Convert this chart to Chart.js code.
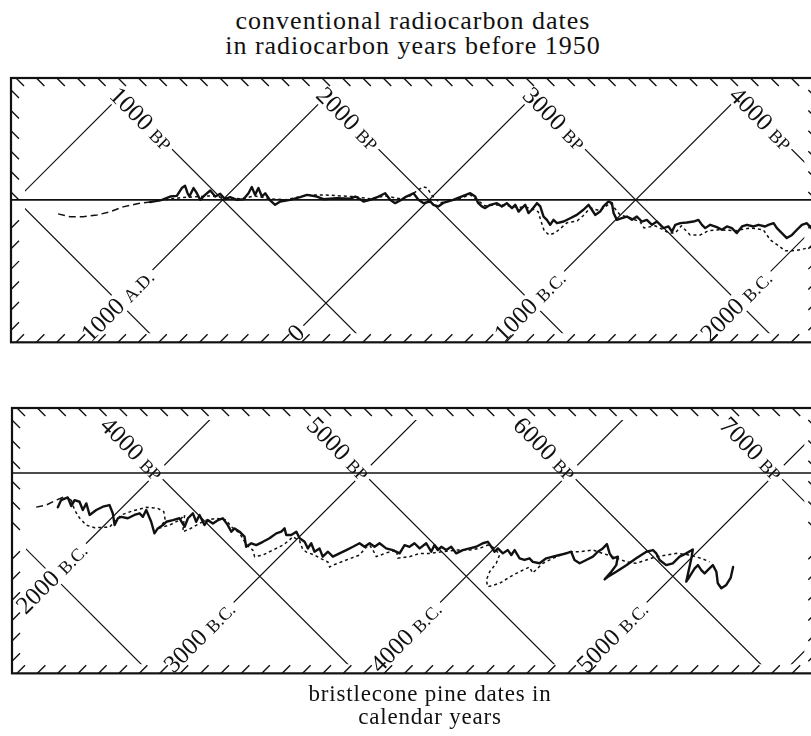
<!DOCTYPE html>
<html>
<head>
<meta charset="utf-8">
<script src="https://cdn.jsdelivr.net/npm/chart.js@4.4.0/dist/chart.umd.min.js"></script>
<style>
  html, body { margin: 0; padding: 0; background: #fff; width: 811px; height: 736px; overflow: hidden; }
  .cap { position: absolute; color: #111; text-align: center;
         font-family: "Liberation Serif", "Times New Roman", serif; }
  #head { left: 0; width: 826px; top: 8px; font-size: 26px; line-height: 25px; letter-spacing: 1px; }
  #foot { left: 0; width: 860px; top: 682px; font-size: 23px; line-height: 23px; letter-spacing: 0.8px; }
  canvas { position: absolute; left: 0; }
</style>
</head>
<body>
<div class="cap" id="head">conventional radiocarbon dates<br>in radiocarbon years before 1950</div>
<canvas id="upper" width="830" height="280" style="top:70px"></canvas>
<canvas id="lower" width="830" height="285" style="top:398px"></canvas>
<div class="cap" id="foot">bristlecone pine dates in<br>calendar years</div>
<script>
// ---- Upper strip: position along the 1:1 line (years BP) and departure from it (years) ----
const upperSolidAge = [
  649, 706, 746, 778, 802, 818, 830, 839, 859, 875,
  891, 915, 940, 964, 988, 1012, 1036, 1069, 1101, 1125,
  1141, 1157, 1173, 1190, 1206, 1230, 1254, 1279, 1327, 1375,
  1408, 1456, 1488, 1553, 1618, 1642, 1666, 1682, 1714, 1755,
  1787, 1811, 1835, 1860, 1884, 1908, 1924, 1948, 1973, 2005,
  2020, 2044, 2068, 2116, 2165, 2199, 2223, 2237, 2255, 2271,
  2296, 2328, 2352, 2376, 2401, 2417, 2433, 2449, 2465, 2481,
  2497, 2522, 2538, 2554, 2570, 2586, 2602, 2619, 2651, 2683,
  2715, 2747, 2772, 2788, 2804, 2828, 2844, 2868, 2885, 2893,
  2909, 2933, 2958, 2982, 3006, 3030, 3054, 3079, 3103, 3135,
  3159, 3176, 3192, 3216, 3248, 3280, 3304, 3321, 3337, 3361,
  3393, 3418, 3442, 3466, 3490, 3515, 3539, 3571, 3595, 3627,
  3643, 3668, 3684, 3708, 3732, 3757, 3781, 3805, 3829, 3850,
  3874
];
const upperSolidShift = [
  -11, 0, 16, 19, 57, 68, 32, 16, 57, 32,
  0, 24, 45, 16, 29, 3, 13, 0, 3, 32,
  62, 24, 57, 16, 32, -3, -24, -8, 0, 13,
  24, 16, 3, 8, 6, 16, 3, -8, 0, 16,
  32, 0, -16, -3, 13, 24, 32, 0, -16, -8,
  -24, -32, -15, 0, 19, 32, 16, -15, -32, -40,
  -24, -16, -32, -16, -40, -24, -57, -40, -24, -64,
  -48, -16, -32, -81, -97, -121, -97, -113, -105, -89,
  -73, -48, -24, -48, -73, -57, -32, -8, -16, -64,
  -97, -89, -81, -97, -81, -105, -97, -121, -105, -137,
  -129, -154, -121, -113, -110, -105, -97, -121, -137, -121,
  -132, -145, -129, -137, -161, -129, -121, -129, -121, -129,
  -121, -113, -137, -161, -185, -170, -145, -121, -113, -137,
  -155
];
const upperDashedAge = [
  203, 262, 324, 392, 455, 518, 586, 649, 722, 794,
  867, 940, 1012, 1085, 1157, 1230, 1303, 1375, 1424, 1496,
  1569, 1642, 1714, 1787, 1860, 1908, 1947, 1971, 1990, 2015,
  2053, 2126, 2199, 2271, 2344, 2417, 2489, 2528, 2543, 2557,
  2581, 2610, 2668, 2717, 2746, 2780, 2828, 2877, 2925, 2974,
  3022, 3041, 3095, 3133, 3158, 3192, 3221, 3264, 3313, 3351,
  3409, 3482, 3555, 3618, 3652, 3686, 3724, 3758, 3797, 3836,
  3874
];
const upperDashedShift = [
  -68, -82, -82, -73, -58, -34, -19, -10, 0, 10,
  15, 19, 10, 5, 19, 5, 0, 15, 24, 24,
  19, 15, 5, 19, 5, 19, 48, 63, 58, 19,
  -15, 0, 24, -29, -24, -34, -39, -58, -107, -150,
  -170, -160, -111, -102, -77, -39, -53, -15, -73, -87,
  -107, -136, -126, -145, -160, -160, -126, -170, -170, -150,
  -145, -150, -136, -145, -194, -218, -247, -247, -242, -232,
  -223
];

// ---- Lower strip ----
const lowerSolidAge = [
  3522, 3538, 3570, 3587, 3603, 3627, 3643, 3660, 3676, 3708,
  3740, 3772, 3788, 3797, 3813, 3829, 3861, 3893, 3918, 3934,
  3950, 3974, 3990, 4006, 4031, 4047, 4079, 4111, 4136, 4152,
  4176, 4192, 4208, 4232, 4248, 4273, 4297, 4321, 4345, 4362,
  4378, 4402, 4426, 4434, 4459, 4483, 4515, 4547, 4580, 4604,
  4620, 4628, 4652, 4677, 4693, 4717, 4733, 4749, 4765, 4789,
  4805, 4830, 4854, 4886, 4919, 4951, 4983, 5007, 5032, 5056,
  5080, 5112, 5144, 5177, 5201, 5225, 5249, 5274, 5306, 5330,
  5346, 5362, 5379, 5403, 5427, 5451, 5483, 5516, 5548, 5580,
  5604, 5621, 5637, 5653, 5677, 5701, 5718, 5734, 5758, 5782,
  5806, 5822, 5855, 5887, 5919, 5952, 5984, 6008, 6024, 6049,
  6081, 6113, 6137, 6161, 6181, 6194, 6210, 6234, 6226, 6202,
  6170, 6186, 6226, 6275, 6323, 6372, 6404, 6420, 6436, 6468,
  6500, 6533, 6565, 6597, 6590, 6565, 6581, 6606, 6622, 6638,
  6654, 6678, 6694, 6711, 6718, 6735, 6759, 6780, 6792
];
const lowerSolidShift = [
  -166, -131, -118, -160, -131, -139, -179, -147, -203, -179,
  -163, -155, -195, -252, -219, -212, -219, -203, -195, -212,
  -179, -236, -292, -268, -252, -236, -228, -219, -260, -219,
  -195, -236, -203, -252, -228, -244, -228, -219, -252, -284,
  -268, -284, -308, -357, -340, -349, -333, -316, -292, -284,
  -268, -300, -300, -284, -316, -333, -365, -340, -381, -365,
  -405, -381, -405, -389, -373, -357, -340, -357, -340, -357,
  -340, -365, -373, -389, -349, -357, -340, -365, -340, -381,
  -349, -373, -357, -373, -357, -389, -373, -365, -357, -340,
  -333, -357, -381, -365, -389, -373, -397, -373, -413, -421,
  -413, -430, -437, -413, -405, -397, -389, -381, -421, -437,
  -421, -405, -381, -365, -344, -389, -413, -405, -446, -478,
  -515, -502, -478, -446, -413, -381, -373, -389, -421, -446,
  -437, -405, -389, -370, -413, -526, -502, -462, -446, -470,
  -486, -462, -446, -478, -534, -558, -542, -508, -455
];
const lowerDashedAge = [
  3417, 3466, 3514, 3554, 3587, 3603, 3627, 3660, 3700, 3738,
  3772, 3788, 3829, 3885, 3950, 4006, 4035, 4042, 4015, 4063,
  4111, 4136, 4131, 4127, 4160, 4208, 4241, 4289, 4338, 4362,
  4402, 4436, 4466, 4475, 4515, 4563, 4612, 4644, 4660, 4693,
  4707, 4726, 4765, 4799, 4830, 4838, 4854, 4919, 4983, 5016,
  5032, 5048, 5064, 5112, 5161, 5169, 5225, 5274, 5322, 5387,
  5451, 5516, 5564, 5604, 5637, 5661, 5645, 5613, 5597, 5604,
  5661, 5726, 5774, 5806, 5821, 5871, 5936, 6000, 6049, 6113,
  6161, 6210, 6275, 6323, 6372, 6420, 6468, 6517, 6581, 6638,
  6678
];
const lowerDashedShift = [
  -165, -155, -131, -115, -131, -179, -218, -252, -265, -263,
  -263, -244, -203, -183, -166, -171, -187, -228, -266, -252,
  -228, -203, -247, -284, -271, -244, -228, -219, -228, -260,
  -291, -349, -373, -405, -397, -373, -349, -324, -308, -329,
  -368, -383, -397, -416, -431, -455, -446, -421, -397, -358,
  -349, -373, -405, -387, -373, -412, -405, -389, -389, -381,
  -373, -373, -365, -349, -363, -397, -437, -478, -518, -551,
  -534, -494, -470, -455, -484, -437, -405, -381, -381, -373,
  -389, -405, -430, -437, -421, -405, -397, -389, -397, -413,
  -430
];

// ---- Diagonal lattice: values where each pair of lines meets the 1:1 line ----
const upperGrid = [0, 1000, 2000, 3000, 4000, 5000];
const upperBP = [1000, 2000, 3000, 4000];
const upperCalendarAt = [1000, 2000, 3000, 4000];
const upperCalendar = ['1000 A.D.', '0', '1000 B.C.', '2000 B.C.'];
const lowerGrid = [3000, 4000, 5000, 6000, 7000, 8000];
const lowerBP = [4000, 5000, 6000, 7000];
const lowerCalendarAt = [4000, 5000, 6000, 7000];
const lowerCalendar = ['2000 B.C.', '3000 B.C.', '4000 B.C.', '5000 B.C.'];

const PX_PER_YEAR = 0.2065;   // same on both axes so the lattice runs at 45 degrees
const SERIF = '"Liberation Serif", "Times New Roman", serif';
const INK = '#111';
const NUM_SIZE = 25, CAPS_SIZE = 18;

const toPoints = (ages, shifts) => ages.map((a, i) => ({ x: a, y: shifts[i] }));

function makeLabel(ctx, sx, sy, angle, parts) {
  let w = 0;
  for (const [txt, size] of parts) { ctx.font = size + 'px ' + SERIF; w += ctx.measureText(txt).width; }
  return { sx, sy, angle, parts, w };
}

function boxPath(ctx, l) {
  const c = Math.cos(l.angle), s = Math.sin(l.angle);
  const pt = (u, v) => [l.sx + u * c - v * s, l.sy + u * s + v * c];
  const corners = [pt(-3, -11), pt(l.w + 4, -11), pt(l.w + 4, 11), pt(-3, 11)];
  ctx.moveTo(...corners[0]);
  for (let i = 1; i < 4; i++) ctx.lineTo(...corners[i]);
  ctx.closePath();
}

function drawLabel(ctx, l) {
  ctx.save();
  ctx.translate(l.sx, l.sy);
  ctx.rotate(l.angle);
  ctx.fillStyle = INK;
  ctx.textBaseline = 'alphabetic';
  let u = 0;
  for (const [txt, size] of l.parts) {
    ctx.font = size + 'px ' + SERIF;
    ctx.fillText(txt, u, 8);
    u += ctx.measureText(txt).width;
  }
  ctx.restore();
}

// Frame, hatching, 1:1 line, lattice and its labels, drawn under the curves
const diagram = {
  id: 'diagram',
  beforeDatasetsDraw(chart, _args, o) {
    const { ctx, chartArea: a, scales: { x, y } } = chart;
    const X = v => x.getPixelForValue(v), Y = v => y.getPixelForValue(v);

    const labels = [];
    o.bp.forEach(v => {
      const sy = a.top + 13;
      const sx = X(v - y.getValueForPixel(sy));
      labels.push(makeLabel(ctx, sx, sy, Math.PI / 4,
        [[String(v), NUM_SIZE], [' ', NUM_SIZE], ['BP', CAPS_SIZE]]));
    });
    o.calAt.forEach((v, i) => {
      let sy = a.bottom - 5;
      let sx = X(v + y.getValueForPixel(sy));
      if (sx < a.left + 8) { sx = a.left + 8; sy = Y(x.getValueForPixel(sx) - v); }
      const [num, era] = o.cal[i].split(' ');
      const parts = [[num, NUM_SIZE]];
      if (era) parts.push([' ', NUM_SIZE], [era, CAPS_SIZE]);
      labels.push(makeLabel(ctx, sx, sy, -Math.PI / 4, parts));
    });

    // lattice, kept clear of the frame and of the labels
    ctx.save();
    ctx.beginPath();
    ctx.rect(a.left + 14, a.top + 12, a.width - 26, a.height - 21);
    ctx.clip();
    ctx.beginPath();
    ctx.rect(0, 0, chart.width, chart.height);
    labels.forEach(l => boxPath(ctx, l));
    ctx.clip('evenodd');
    ctx.beginPath();
    const lo = y.min, hi = y.max;
    o.grid.forEach(g => {
      ctx.moveTo(X(g - lo), Y(lo)); ctx.lineTo(X(g - hi), Y(hi));   // constant radiocarbon age
      ctx.moveTo(X(g + lo), Y(lo)); ctx.lineTo(X(g + hi), Y(hi));   // constant calendar age
    });
    ctx.lineWidth = 1.2;
    ctx.strokeStyle = INK;
    ctx.stroke();
    ctx.restore();

    ctx.save();
    ctx.strokeStyle = INK;
    // 1:1 reference line
    ctx.beginPath();
    ctx.moveTo(a.left, Y(0)); ctx.lineTo(a.right, Y(0));
    ctx.lineWidth = 1.6;
    ctx.stroke();

    labels.forEach(l => drawLabel(ctx, l));

    // hatched frame
    ctx.beginPath();
    const step = 20.4, t = 8;
    for (let px = a.left + 5; px < a.right - 4; px += step) {
      ctx.moveTo(px, a.top); ctx.lineTo(px + t, a.top + t);
      ctx.moveTo(px, a.bottom); ctx.lineTo(px + t, a.bottom - t);
    }
    const mid = (a.top + a.bottom) / 2;
    for (let py = a.top + 12; py < mid - 2; py += step) {
      ctx.moveTo(a.left, py); ctx.lineTo(a.left + t, py + t);
      ctx.moveTo(a.right - t, py); ctx.lineTo(a.right, py + t);
    }
    for (let py = a.bottom - 12; py > mid + 2; py -= step) {
      ctx.moveTo(a.left, py); ctx.lineTo(a.left + t, py - t);
      ctx.moveTo(a.right - t, py); ctx.lineTo(a.right, py - t);
    }
    ctx.lineWidth = 1.4;
    ctx.stroke();
    ctx.lineWidth = 2.2;
    ctx.strokeRect(a.left, a.top, a.width, a.height);
    ctx.restore();
  }
};

function strip(id, cfg) {
  const canvas = document.getElementById(id);
  const spanX = cfg.xMax - cfg.xMin, spanY = cfg.yMax - cfg.yMin;
  const padding = {
    left: cfg.left, top: cfg.top,
    right: canvas.width - cfg.left - spanX * PX_PER_YEAR,
    bottom: canvas.height - cfg.top - spanY * PX_PER_YEAR
  };
  return new Chart(canvas, {
    type: 'scatter',
    data: {
      datasets: [
        {
          data: toPoints(cfg.dashedAge, cfg.dashedShift),
          showLine: true, pointRadius: 0, tension: 0,
          borderColor: INK, borderWidth: 1.5, borderDash: [3, 3],
          segment: { borderDash: c => (c.p0.parsed.x < cfg.longDashUntil ? [7, 4] : [3, 3]) }
        },
        {
          data: toPoints(cfg.solidAge, cfg.solidShift),
          showLine: true, pointRadius: 0, tension: 0,
          borderColor: INK, borderWidth: 2.4, borderJoinStyle: 'round', borderCapStyle: 'round'
        }
      ]
    },
    options: {
      responsive: false, animation: false, events: [],
      layout: { padding },
      scales: {
        x: { type: 'linear', display: false, min: cfg.xMin, max: cfg.xMax },
        y: { type: 'linear', display: false, min: cfg.yMin, max: cfg.yMax }
      },
      plugins: {
        legend: { display: false }, tooltip: { enabled: false },
        diagram: { grid: cfg.grid, bp: cfg.bp, calAt: cfg.calAt, cal: cfg.cal }
      }
    },
    plugins: [diagram]
  });
}

strip('upper', {
  xMin: -25, xMax: 3875, yMin: -690, yMax: 590, left: 11, top: 8,
  solidAge: upperSolidAge, solidShift: upperSolidShift,
  dashedAge: upperDashedAge, dashedShift: upperDashedShift, longDashUntil: 700,
  grid: upperGrid, bp: upperBP, calAt: upperCalendarAt, cal: upperCalendar
});
strip('lower', {
  xMin: 3300, xMax: 7195, yMin: -970, yMax: 315, left: 12, top: 10,
  solidAge: lowerSolidAge, solidShift: lowerSolidShift,
  dashedAge: lowerDashedAge, dashedShift: lowerDashedShift, longDashUntil: 3580,
  grid: lowerGrid, bp: lowerBP, calAt: lowerCalendarAt, cal: lowerCalendar
});
</script>
</body>
</html>
